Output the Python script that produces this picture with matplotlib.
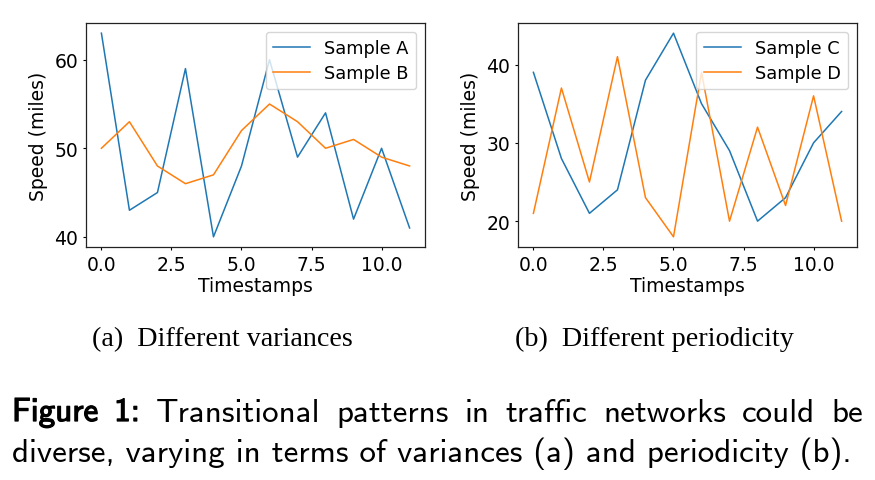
import matplotlib
matplotlib.use('Agg')
import matplotlib.pyplot as plt
import matplotlib.patheffects as pe

# ---------------- data ----------------
timestamps = list(range(12))
sample_a = [63, 43, 45, 59, 40, 48, 60, 49, 54, 42, 50, 41]
sample_b = [50, 53, 48, 46, 47, 52, 55, 53, 50, 51, 49, 48]
sample_c = [39, 28, 21, 24, 38, 44, 35, 29, 20, 23, 30, 34]
sample_d = [21, 37, 25, 41, 23, 18, 39, 20, 32, 22, 36, 20]

sub_a = "(a)  Different variances"
sub_b = "(b)  Different periodicity"
cap_line1 = "Figure 1: Transitional patterns in traffic networks could be"
cap_line2 = "diverse, varying in terms of variances (a) and periodicity (b)."

W, H = 875, 481
fig = plt.figure(figsize=(W / 100, H / 100), dpi=100)

def px_axes(x0, y0, x1, y1):                       # pixel box -> figure fraction
    return fig.add_axes([x0 / W, 1 - y1 / H, (x1 - x0) / W, (y1 - y0) / H])

fs = 13.5
ax1 = px_axes(86, 24, 425, 248)
ax2 = px_axes(518, 24, 857, 248)

for ax, s1, s2, n1, n2 in [(ax1, sample_a, sample_b, "Sample A", "Sample B"),
                           (ax2, sample_c, sample_d, "Sample C", "Sample D")]:
    ax.plot(timestamps, s1, color='#1f77b4', lw=1.1, label=n1)
    ax.plot(timestamps, s2, color='#ff7f0e', lw=1.1, label=n2)
    ax.set_xlabel("Timestamps", fontsize=fs, labelpad=2)
    ax.set_ylabel("Speed (miles)", fontsize=fs, labelpad=5)
    ax.tick_params(labelsize=fs, length=2.5, width=0.8, pad=3)
    ax.xaxis.set_major_locator(matplotlib.ticker.MultipleLocator(2.5))
    ax.xaxis.set_major_formatter(matplotlib.ticker.FormatStrFormatter('%.1f'))
    ax.yaxis.set_major_locator(matplotlib.ticker.MultipleLocator(10))
    for sp in ax.spines.values():
        sp.set_color('#222222')
        sp.set_linewidth(0.9)
    ax.legend(loc='upper right', fontsize=12.8, handlelength=2.1, labelspacing=0.4)

renderer = fig.canvas.get_renderer()

def fit_size(txt, family, target, weight='normal'):
    t = fig.text(0, 0, txt, fontsize=20, family=family, weight=weight)
    w = t.get_window_extent(renderer).width
    t.remove()
    return 20 * target / w

# ---------------- sub captions ----------------
sz = fit_size(sub_a, 'Liberation Serif', 261)
fig.text(222.5 / W, 1 - 346 / H, sub_a, fontsize=sz, family='Liberation Serif',
         ha='center', va='baseline')
sz = fit_size(sub_b, 'Liberation Serif', 279)
fig.text(654.5 / W, 1 - 346 / H, sub_b, fontsize=sz, family='Liberation Serif',
         ha='center', va='baseline')

# ---------------- figure caption ----------------
cap_font = 'cmss10'
cap_fs = fit_size(cap_line2, cap_font, 840)
bold = [pe.withStroke(linewidth=0.9, foreground='black')]

# line 1 is justified between x=12 and x=863
words = cap_line1.split()
texts, widths = [], []
for i, w in enumerate(words):
    t = fig.text(0, 1 - 422 / H, w, fontsize=cap_fs, family=cap_font, va='baseline')
    if i < 2:
        t.set_path_effects(bold)
    texts.append(t)
    widths.append(t.get_window_extent(renderer).width)
gap = (863 - 12 - sum(widths)) / (len(words) - 1)
x = 12
for t, w in zip(texts, widths):
    t.set_x(x / W)
    x += w + gap

fig.text(12 / W, 1 - 462 / H, cap_line2, fontsize=cap_fs, family=cap_font, va='baseline')

fig.savefig('out.png', dpi=100)
